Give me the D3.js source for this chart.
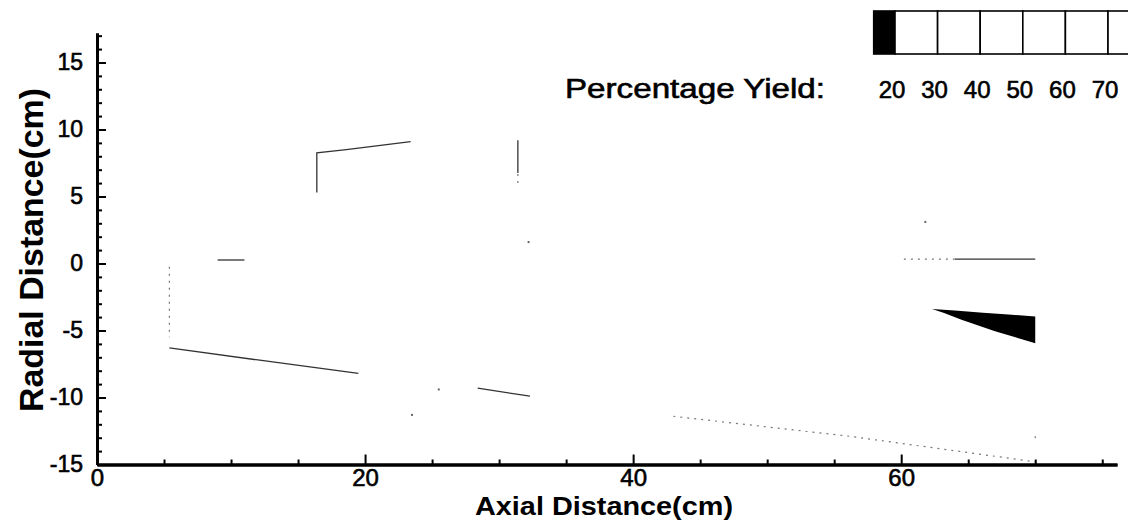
<!DOCTYPE html>
<html>
<head>
<meta charset="utf-8">
<script src="https://cdn.jsdelivr.net/npm/d3@7"></script>
<style>
  body { margin: 0; background: #fff; }
  svg { display: block; font-family: "Liberation Sans", Arial, sans-serif; }
  .heavy { stroke: #000; stroke-width: 0.6px; }
</style>
</head>
<body>
<svg id="chart" width="1128" height="523"></svg>
<script>
// axis ticks
var xMajorTicks = [0, 20, 40, 60];
var xMinorTicks = [5, 10, 15, 25, 30, 35, 45, 50, 55, 65, 70, 75];
var yMajorTicks = [-15, -10, -5, 0, 5, 10, 15];
var yMinorTicks = d3.range(-14, 18).filter(function(d){ return d % 5 != 0; });

// contour levels for the colour bar
var yieldLevels = [20, 30, 40, 50, 60, 70];

// reactor outline fragments left visible in the plot (axial cm, radial cm)
var outlineSolid = [
  [[16.4, 5.3], [16.4, 8.25], [18.6, 8.5], [21.0, 8.8], [23.4, 9.1]],
  [[31.4, 6.75], [31.4, 9.2]],
  [[9.0, 0.26], [11.0, 0.26]],
  [[64.0, 0.33], [70.0, 0.33]],
  [[5.4, -6.3], [12.0, -7.2], [19.5, -8.2]],
  [[28.4, -9.3], [32.3, -9.9]]
];
var outlineDotted = [
  [[5.4, -0.25], [5.4, -5.5]],
  [[60.2, 0.33], [64.0, 0.33]],
  [[31.4, 6.0], [31.4, 6.7]],
  [[43.0, -11.4], [56.2, -12.9], [70.0, -14.8]],
  [[70.0, -12.9], [70.0, -13.4]]
];
var strayDots = [[25.5, -9.4], [23.5, -11.3], [32.2, 1.6], [61.8, 3.1]];

// region with yield below 20 % (black contour band)
var lowYieldBand = [
  [62.3, -3.4], [64.0, -3.5], [66.1, -3.67], [68.0, -3.8], [70.0, -3.95],
  [70.0, -5.95], [67.0, -5.05], [64.5, -4.2], [63.2, -3.7]
];

var svg = d3.select("#chart");

var x = d3.scaleLinear().domain([0, 76.1]).range([97, 1117]);
var y = d3.scaleLinear().domain([-15, 17.2]).range([464.5, 33]);

var line = d3.line().x(function(d){ return x(d[0]); }).y(function(d){ return y(d[1]); });

// filled contour band
svg.append("path")
  .attr("d", line(lowYieldBand) + "Z")
  .attr("fill", "#000");

// outline fragments
svg.selectAll(".solid")
  .data(outlineSolid).enter().append("path")
    .attr("class", "solid")
    .attr("d", line)
    .attr("fill", "none")
    .attr("stroke", "#333")
    .attr("stroke-width", 1.3);

svg.selectAll(".dotted")
  .data(outlineDotted).enter().append("path")
    .attr("class", "dotted")
    .attr("d", line)
    .attr("fill", "none")
    .attr("stroke", "#777")
    .attr("stroke-width", 1.2)
    .attr("stroke-dasharray", "2,5");

svg.selectAll(".dot")
  .data(strayDots).enter().append("rect")
    .attr("class", "dot")
    .attr("x", function(d){ return x(d[0]) - 1; })
    .attr("y", function(d){ return y(d[1]) - 1; })
    .attr("width", 2).attr("height", 2)
    .attr("fill", "#666");

// axes
function styleAxis(g) {
  g.select(".domain").attr("stroke", "#000").attr("stroke-width", 3);
  g.selectAll(".tick line").attr("stroke", "#000").attr("stroke-width", 2);
}

var gx = svg.append("g").attr("transform", "translate(0," + y(-15) + ")");
gx.call(d3.axisBottom(x).tickValues(xMinorTicks).tickSize(-5).tickSizeOuter(0).tickFormat(""));
gx.call(styleAxis);
var gx2 = svg.append("g").attr("transform", "translate(0," + y(-15) + ")");
gx2.call(d3.axisBottom(x).tickValues(xMajorTicks).tickSize(-10).tickSizeOuter(0).tickPadding(4).tickFormat(d3.format("d")));
gx2.call(styleAxis);
gx2.selectAll(".tick text").attr("font-size", 24).attr("font-family", "Liberation Sans, Arial").attr("fill", "#000").attr("class", "heavy");
gx2.selectAll(".tick line").filter(function(d){ return d == 0; }).remove();

var gy = svg.append("g").attr("transform", "translate(" + x(0) + ",0)");
gy.call(d3.axisLeft(y).tickValues(yMinorTicks).tickSize(-5).tickSizeOuter(0).tickFormat(""));
gy.call(styleAxis);
var gy2 = svg.append("g").attr("transform", "translate(" + x(0) + ",0)");
gy2.call(d3.axisLeft(y).tickValues(yMajorTicks).tickSize(-9).tickSizeOuter(0).tickPadding(14).tickFormat(d3.format("d")));
gy2.call(styleAxis);
gy2.selectAll(".tick text").attr("font-size", 23).attr("font-family", "Liberation Sans, Arial").attr("fill", "#000").attr("class", "heavy");
gy2.selectAll(".tick text").text(function(d){ return d < 0 ? "-" + Math.abs(d) : d; });

// axis titles
svg.append("text")
  .attr("x", 604).attr("y", 515)
  .attr("text-anchor", "middle")
  .attr("font-size", 26).attr("font-weight", "bold")
  .attr("textLength", 258).attr("lengthAdjust", "spacingAndGlyphs")
  .text("Axial Distance(cm)");

svg.append("text")
  .attr("transform", "translate(43,250) rotate(-90)")
  .attr("text-anchor", "middle")
  .attr("font-size", 34).attr("font-weight", "bold")
  .attr("textLength", 324).attr("lengthAdjust", "spacingAndGlyphs")
  .text("Radial Distance(cm)");

// colour bar legend
var lx = d3.scaleLinear().domain([20, 70]).range([895, 1108]);
var bands = [15].concat(yieldLevels).concat([80]);
var legend = svg.append("g");
legend.selectAll("rect")
  .data(d3.pairs(bands)).enter().append("rect")
    .attr("x", function(d){ return lx(d[0]); })
    .attr("y", 11)
    .attr("width", function(d){ return lx(d[1]) - lx(d[0]); })
    .attr("height", 43)
    .attr("fill", function(d, i){ return i == 0 ? "#000" : "#fff"; })
    .attr("stroke", "#000")
    .attr("stroke-width", 1.6);
legend.selectAll("text")
  .data(yieldLevels).enter().append("text")
    .attr("class", "heavy")
    .attr("x", function(d){ return lx(d) - 3; })
    .attr("y", 98)
    .attr("text-anchor", "middle")
    .attr("font-size", 24)
    .text(function(d){ return d; });

svg.append("text")
  .attr("class", "heavy")
  .attr("x", 565).attr("y", 98)
  .attr("font-size", 27)
  .attr("textLength", 260).attr("lengthAdjust", "spacingAndGlyphs")
  .text("Percentage Yield:");
</script>
</body>
</html>
